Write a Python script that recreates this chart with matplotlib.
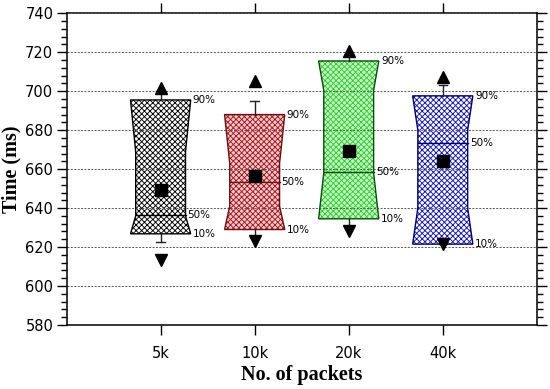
import numpy as np
import matplotlib
matplotlib.use("Agg")
import matplotlib.pyplot as plt
from matplotlib.patches import Polygon
from matplotlib.ticker import MultipleLocator

categories = ['5k', '10k', '20k', '40k']
p10 = [626.8, 629.0, 634.5, 621.5]
p25 = [636.0, 641.0, 658.0, 640.0]
p50 = [636.4, 653.2, 658.4, 673.5]
p75 = [669.0, 663.0, 700.5, 680.0]
p90 = [695.5, 688.0, 715.5, 697.6]
means = [649.5, 656.5, 669.1, 664.0]
whis_lo = [622.6, 625.0, 631.0, 621.5]
whis_hi = [700.0, 694.7, 718.0, 703.2]
min_vals = [613.3, 623.2, 628.3, 621.4]
max_vals = [701.5, 705.0, 720.7, 707.3]

face_colors = ['white', '#ffc8cf', '#c8ffc8', 'white']
hatch_colors = ['black', '#a01818', '#2fcc2f', '#1010d0']
edge_colors = ['black', '#6a1010', '#0a4a0a', '#000070']

plt.rcParams['hatch.linewidth'] = 0.65

fig = plt.figure(figsize=(5.5, 3.89), dpi=100)
ax = fig.add_axes([0.121, 0.1645, 0.855, 0.8015])

positions = np.arange(1, len(categories) + 1)
full_hw = 0.32
narrow_hw = 0.265
cap_hw = 0.045

for i, pos in enumerate(positions):
    ys = [p10[i], p25[i], p75[i], p90[i]]
    ws = [full_hw, narrow_hw, narrow_hw, full_hw]
    left = [(pos - w, y) for w, y in zip(ws, ys)]
    right = [(pos + w, y) for w, y in zip(ws, ys)][::-1]
    verts = left + right
    ax.add_patch(Polygon(verts, closed=True, facecolor=face_colors[i],
                         edgecolor='none', zorder=1))
    ax.add_patch(Polygon(verts, closed=True, facecolor='none',
                         edgecolor=hatch_colors[i], hatch='xxxxxx',
                         linewidth=0, zorder=1.2))
    ax.add_patch(Polygon(verts, closed=True, facecolor='none',
                         edgecolor=edge_colors[i], linewidth=1.0, zorder=3))
    # median line
    mw = np.interp(p50[i], ys, ws)
    ax.plot([pos - mw, pos + mw], [p50[i], p50[i]], color=edge_colors[i],
            lw=1.0, zorder=3)
    # whiskers
    ax.plot([pos, pos], [p90[i], whis_hi[i]], color='#222222', lw=1.0, zorder=3)
    ax.plot([pos - cap_hw, pos + cap_hw], [whis_hi[i], whis_hi[i]],
            color='#222222', lw=1.0, zorder=3)
    ax.plot([pos, pos], [p10[i], whis_lo[i]], color='#222222', lw=1.0, zorder=3)
    ax.plot([pos - cap_hw, pos + cap_hw], [whis_lo[i], whis_lo[i]],
            color='#222222', lw=1.0, zorder=3)
    # markers
    ax.plot(pos, means[i], 's', color='black', ms=8.5, zorder=4)
    ax.plot(pos, max_vals[i], '^', color='black', ms=9, zorder=4)
    ax.plot(pos, min_vals[i], 'v', color='black', ms=9, zorder=4)
    # percent labels
    for val, lab in [(p90[i], '90%'), (p50[i], '50%'), (p10[i], '10%')]:
        w = np.interp(val, ys, ws)
        ax.annotate(lab, xy=(pos + w, val), xytext=(1.5, 0),
                    textcoords='offset points', ha='left', va='center',
                    fontsize=7.5, color='black', zorder=5)

ax.set_xlim(0, 5)
ax.set_ylim(580, 740)
ax.set_xticks(positions)
ax.set_xticklabels(categories)
ax.yaxis.set_major_locator(MultipleLocator(20))
ax.yaxis.set_minor_locator(MultipleLocator(4))

ax.tick_params(axis='y', which='major', direction='out', length=7, width=1,
               labelsize=10.5, pad=2.5, left=True, right=True)
ax.tick_params(axis='y', which='minor', direction='out', length=4.5, width=1,
               left=True, right=True)
ax.tick_params(axis='x', which='major', direction='out', length=7, width=1,
               labelsize=10.5, pad=8, top=True, bottom=True)

for sp in ax.spines.values():
    sp.set_linewidth(1.1)

ax.set_axisbelow(False)
ax.grid(axis='y', which='major', color='#555555', linestyle=(0, (2, 1.5)),
        linewidth=0.7, zorder=2)

ax.set_ylabel('Time (ms)', family='Liberation Serif', fontweight='bold',
              fontsize=14.5, labelpad=3)
ax.set_xlabel('No. of packets', family='Liberation Serif', fontweight='bold',
              fontsize=14.5, labelpad=3)

fig.savefig('out.png', dpi=100)
